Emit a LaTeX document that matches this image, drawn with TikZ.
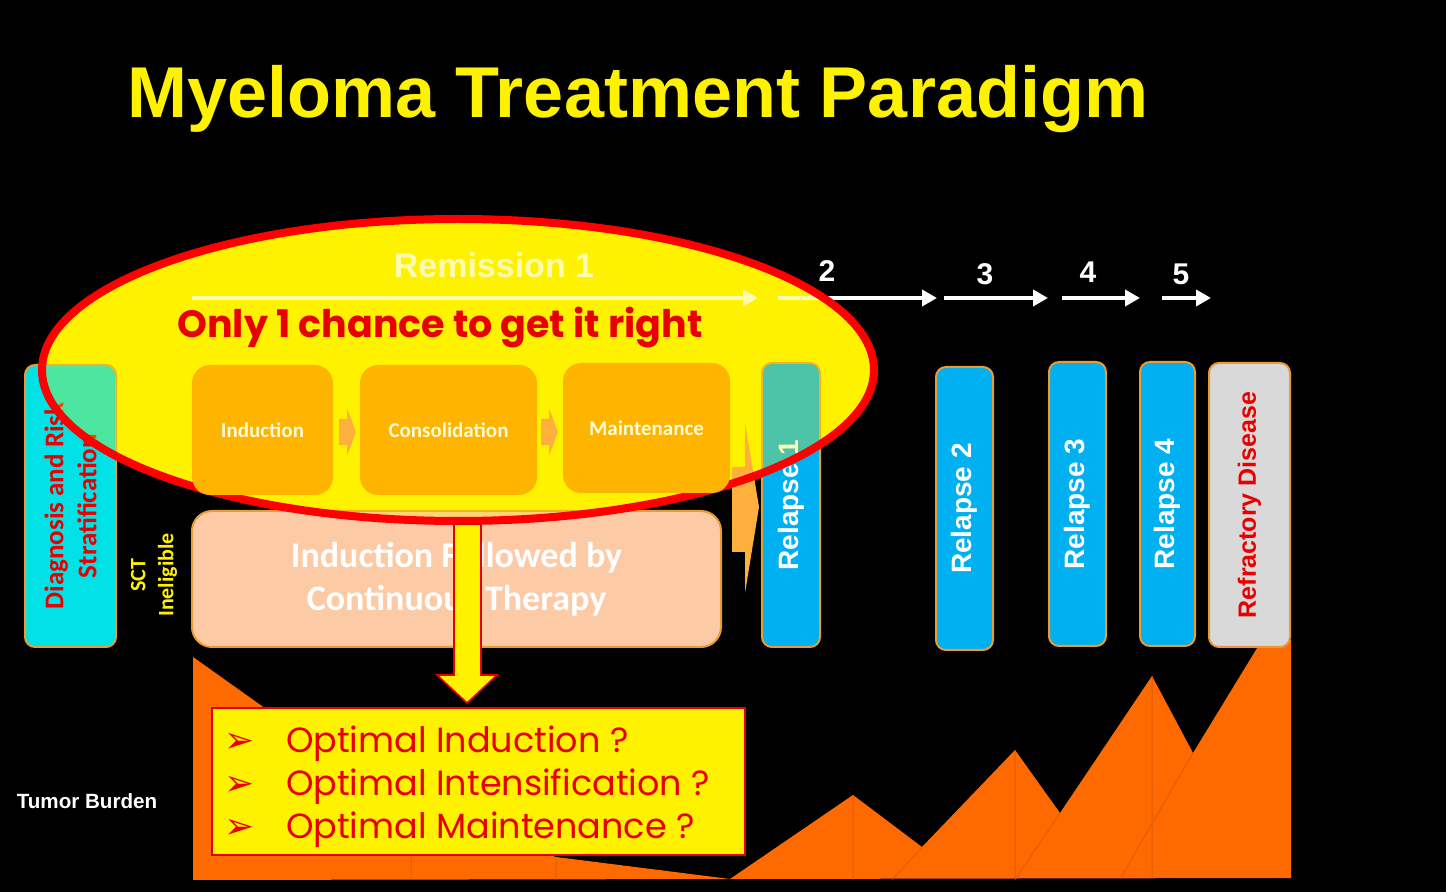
\documentclass[tikz,border=0pt]{standalone}
\usepackage{fontspec}
\setmainfont{Liberation Sans}
\newfontfamily\calfont{Carlito}
\newfontfamily\handfont{Poppins}
\newfontfamily\symfont{DejaVu Sans}
\usetikzlibrary{arrows.meta}

\definecolor{diagcyan}{RGB}{0,226,230}
\definecolor{phaseorange}{RGB}{255,180,0}
\definecolor{peach}{RGB}{252,202,165}
\definecolor{relblue}{RGB}{0,176,240}
\definecolor{refgray}{RGB}{217,217,217}
\definecolor{burden}{RGB}{255,106,0}
\definecolor{rimorange}{RGB}{232,156,52}
\definecolor{hotred}{RGB}{232,0,0}
\definecolor{arrowtan}{RGB}{255,176,60}

\tikzset{
  stagebox/.style={draw=rimorange, line width=1pt, rounded corners=5pt, inner sep=0pt,
    rotate=90, text=white, font=\bfseries\fontsize{14}{16}\selectfont},
  phasebox/.style={fill=phaseorange, rounded corners=9pt, inner sep=0pt, minimum height=65pt,
    text=white!85!yellow, font=\calfont\bfseries\fontsize{10.5}{12}\selectfont},
  timeline/.style={draw=white, line width=2.2pt, -{Triangle[length=7.5pt,width=8pt]}},
  stepnum/.style={text=white, anchor=base, font=\bfseries\fontsize{15}{17}\selectfont},
  qline/.style={anchor=base west, text=hotred, font=\handfont\fontsize{17.5}{20}\selectfont},
  seam/.style={draw=burden!80!black, line width=0.5pt, opacity=.6},
}

\begin{document}
\begin{tikzpicture}[x=0.5pt, y=-0.5pt]
    % canvas
    \fill[black] (0,0) rectangle (1446,892);
    \useasboundingbox (0,0) rectangle (1446,892);

    % tumor burden profile
    \fill[burden] (193,657) -- (411,812) -- (556,857) -- (730,879)
        -- (853,795) -- (922,847) -- (1015,750) -- (1060,813) -- (1152,676)
        -- (1193,753) -- (1262,640) -- (1291,640) -- (1291,878) -- (193,880) -- cycle;
    \draw[seam] (411,855) -- (411,880) (556,857) -- (556,880)
        (853,795) -- (853,880) (1015,750) -- (1015,880) (1152,676) -- (1152,878)
        (892,880) -- (922,847) (1015,880) -- (1060,813) (1120,879) -- (1193,753);
    \node[text=white, font=\bfseries\fontsize{10.3}{12}\selectfont] (tb) at (87,801) {Tumor Burden};

    % title
    \node[text=yellow, anchor=base, font=\bfseries\fontsize{36}{40}\selectfont] (title) at (638,118)
        {Myeloma Treatment Paradigm};

    % remission ellipse (fill)
    \fill[yellow] (458,370) ellipse [x radius=416, y radius=151];

    % stage boxes
    \node[stagebox, fill=diagcyan, minimum width=141pt, minimum height=45.5pt, text=hotred,
        align=center, font=\calfont\bfseries\fontsize{13.5}{16.5}\selectfont] (diag) at (70.5,506)
        {Diagnosis and Risk\\Stratification};
    \node[rotate=90, text=yellow, align=center, font=\calfont\bfseries\fontsize{11}{14}\selectfont]
        (sct) at (154,575) {SCT\\Ineligible};
    \node[stagebox, fill=relblue, minimum width=142pt, minimum height=29pt] (rel1) at (791,505) {Relapse 1};
    \node[stagebox, fill=relblue, minimum width=141.5pt, minimum height=28.5pt] (rel2) at (964.5,508.5) {Relapse 2};
    \node[stagebox, fill=relblue, minimum width=142pt, minimum height=28.5pt] (rel3) at (1077.5,504) {Relapse 3};
    \node[stagebox, fill=relblue, minimum width=142pt, minimum height=27.5pt] (rel4) at (1167.5,504) {Relapse 4};
    \node[stagebox, fill=refgray, minimum width=142pt, minimum height=40.5pt, text=hotred,
        font=\bfseries\fontsize{12.5}{14}\selectfont] (refr) at (1249.5,505) {Refractory Disease};

    % continuous therapy box
    \node[draw=rimorange, line width=1pt, fill=peach, rounded corners=10pt, inner sep=0pt,
        minimum width=264.5pt, minimum height=68pt, text=white, align=center,
        font=\calfont\bfseries\fontsize{18}{21.5}\selectfont] (cont) at (456.5,579)
        {Induction Followed by\\Continuous Therapy};

    % remission timeline
    \foreach \n/\a/\b in {1/192/758, 2/778/937, 3/944/1048, 4/1062/1140, 5/1162/1211} {
        \coordinate (ts\n) at (\a,298);
        \coordinate (te\n) at (\b,298);
        \draw[timeline] (ts\n) -- (te\n);
    }
    \node[text=white, anchor=base, font=\bfseries\fontsize{17}{19}\selectfont] (rem) at (494,278) {Remission 1};
    \node[stepnum] (n2) at (827,282) {2};
    \node[stepnum] (n3) at (985,285) {3};
    \node[stepnum] (n4) at (1088,283) {4};
    \node[stepnum] (n5) at (1181,285) {5};

    % yellow wash over what lies inside the ellipse
    \fill[yellow, fill opacity=.3] (458,370) ellipse [x radius=416, y radius=151];

    % hand-over arrow into relapse 1
    \fill[arrowtan] (732,467) -- (745,467) -- (745,423) -- (759,507) -- (745,593)
        -- (745,552) -- (732,552) -- cycle;

    % ellipse rim
    \draw[red, line width=4pt] (458,370) ellipse [x radius=416, y radius=151];

    % treatment phases
    \node[phasebox, minimum width=70.5pt] (ind) at (262.5,430) {Induction};
    \node[phasebox, minimum width=88.5pt] (cons) at (448.5,430) {Consolidation};
    \node[phasebox, minimum width=83.5pt] (maint) at (646.5,428) {Maintenance};
    \foreach \x in {339,541}
        \fill[arrowtan] (\x,419) -- ({\x+8},419) -- ({\x+8},408) -- ({\x+17},432)
            -- ({\x+8},456) -- ({\x+8},445) -- (\x,445) -- cycle;

    \node[text=hotred, anchor=base, font=\handfont\bfseries\fontsize{19}{21}\selectfont] (once) at (440,338)
        {Only 1 chance to get it right};

    % questions
    \node[draw=hotred, line width=1pt, fill=yellow, inner sep=0pt,
        minimum width=266.5pt, minimum height=73.5pt] (qbox) at (478.5,781.5) {};
    \fill[yellow, draw=hotred, line width=0.8pt] (454,524) -- (481,524) -- (481,675) -- (497,675)
        -- (467,703) -- (437,675) -- (454,675) -- cycle;
    \foreach \i/\t in {0/Optimal Induction ?, 1/Optimal Intensification ?, 2/Optimal Maintenance ?} {
        \node[text=hotred, anchor=base, font=\symfont\fontsize{18}{20}\selectfont] (qb\i) at (240,{752+43*\i}) {➢};
        \node[qline] (q\i) at (279,{752+43*\i}) {\t};
    }
\end{tikzpicture}
\end{document}
